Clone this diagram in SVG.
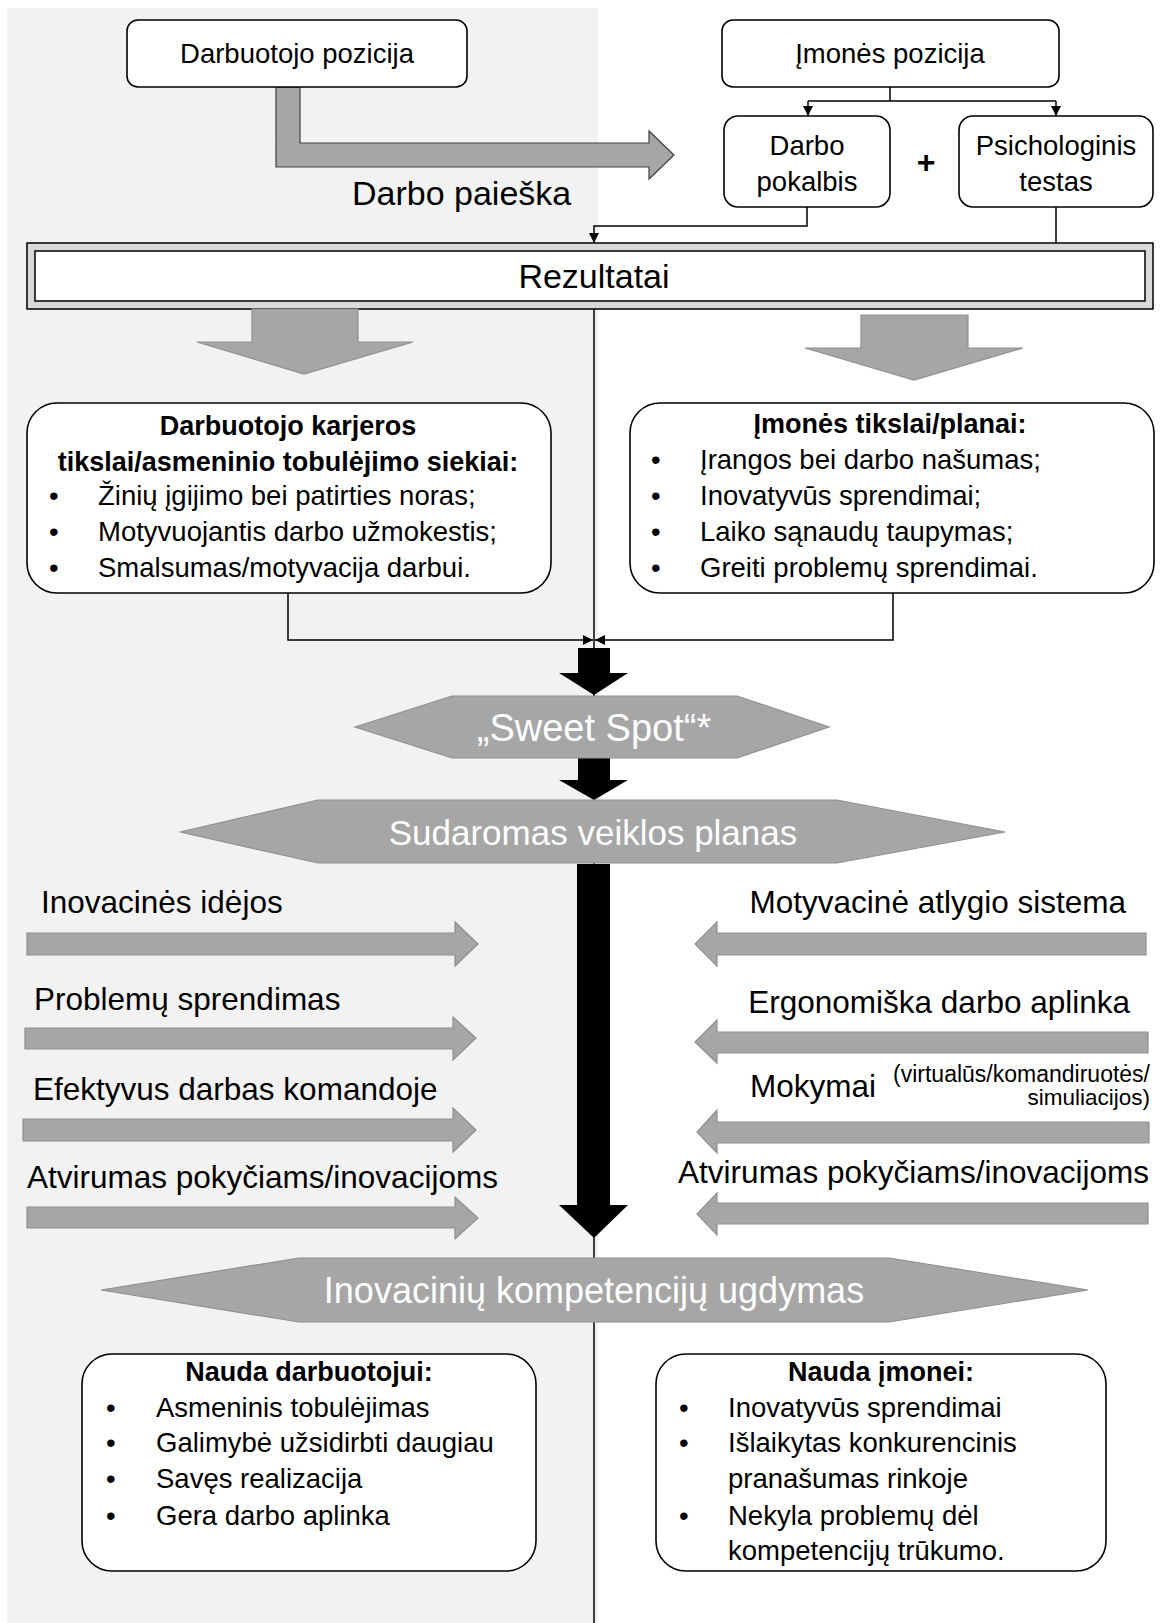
<svg xmlns="http://www.w3.org/2000/svg" width="1161" height="1623" viewBox="0 0 1161 1623">
<defs>
<style>
text{font-family:"Liberation Sans",Arial,sans-serif;fill:#000}
.box{fill:#fff;stroke:#000;stroke-width:1.6}
.t28{font-size:27.5px}
.mid{text-anchor:middle}
.end{text-anchor:end}
.b{font-weight:bold;font-size:27px}
.lbl{font-size:31.5px}
.hex{fill:#a6a6a6;stroke:#8f8f8f;stroke-width:1.2}
.ht{fill:#fff;text-anchor:middle}
.garr{fill:#a6a6a6;stroke:#8f8f8f;stroke-width:1.2}
.barr{fill:#000}
.conn{fill:none;stroke:#000;stroke-width:1.5}
</style>
<marker id="ah" viewBox="0 0 10 10" refX="10" refY="5" markerWidth="10" markerHeight="10" markerUnits="userSpaceOnUse" orient="auto">
<path d="M0,0 L10,5 L0,10 z" fill="#000"/>
</marker>
</defs>
<rect x="0" y="0" width="1161" height="1623" fill="#fff"/>
<rect x="7" y="8" width="591" height="1615" fill="#f2f2f2"/>

<g id="connectors">
<path class="conn" d="M594,309 V1623"/>
<path class="conn" d="M890,87 V101 M808,101 H1056"/>
<path class="conn" d="M808,101 V116" marker-end="url(#ah)"/>
<path class="conn" d="M1056,101 V116" marker-end="url(#ah)"/>
<path class="conn" d="M807,207 V226 H594 V243" marker-end="url(#ah)"/>
<path class="conn" d="M1056,207 V243"/>
<path class="conn" d="M288,593 V640 H593" marker-end="url(#ah)"/>
<path class="conn" d="M893,593 V640 H595" marker-end="url(#ah)"/>
</g>

<g id="search-arrow">
<polygon points="276,87 300,87 300,143 649,143 649,131 674,155 649,179 649,167 276,167" fill="#a6a6a6" stroke="#404040" stroke-width="1.2"/>
<text x="352" y="205" style="font-size:34px">Darbo paieška</text>
</g>

<g id="darbuotojo-pozicija">
<rect class="box" x="127" y="20" width="340" height="67" rx="11"/>
<text class="t28 mid" x="297" y="63">Darbuotojo pozicija</text>
</g>

<g id="imones-pozicija">
<rect class="box" x="722" y="20" width="337" height="67" rx="11"/>
<text class="t28 mid" x="890" y="63">Įmonės pozicija</text>
</g>

<g id="darbo-pokalbis">
<rect class="box" x="724" y="116" width="166" height="91" rx="14"/>
<text class="t28 mid" x="807" y="155">Darbo</text>
<text class="t28 mid" x="807" y="191">pokalbis</text>
</g>

<g id="plus">
<text x="926" y="173" style="font-size:32px;font-weight:bold;text-anchor:middle">+</text>
</g>

<g id="psichologinis-testas">
<rect class="box" x="959" y="116" width="194" height="91" rx="14"/>
<text class="t28 mid" x="1056" y="155">Psichologinis</text>
<text class="t28 mid" x="1056" y="191">testas</text>
</g>

<g id="rezultatai">
<rect x="27" y="243" width="1126" height="66" fill="#d9d9d9" stroke="#000" stroke-width="1.5"/>
<rect x="35" y="251" width="1110" height="50" fill="#fff" stroke="#000" stroke-width="1.5"/>
<text class="mid" x="594" y="288" style="font-size:34px">Rezultatai</text>
</g>

<g id="down-arrows">
<polygon class="garr" points="252,309 358,309 358,342 413,342 304,374 197,342 252,342"/>
<polygon class="garr" points="861,315 968,315 968,348 1023,348 914,380 805,348 861,348"/>
</g>

<g id="darbuotojo-tikslai">
<rect class="box" x="27" y="403" width="524" height="190" rx="30"/>
<text class="b mid" x="288" y="435">Darbuotojo karjeros</text>
<text class="b mid" x="288" y="471">tikslai/asmeninio tobulėjimo siekiai:</text>
<text class="t28" x="49" y="505">•</text><text class="t28" x="98" y="505">Žinių įgijimo bei patirties noras;</text>
<text class="t28" x="49" y="541">•</text><text class="t28" x="98" y="541">Motyvuojantis darbo užmokestis;</text>
<text class="t28" x="49" y="577">•</text><text class="t28" x="98" y="577">Smalsumas/motyvacija darbui.</text>
</g>

<g id="imones-tikslai">
<rect class="box" x="630" y="403" width="524" height="190" rx="30"/>
<text class="b mid" x="890" y="433">Įmonės tikslai/planai:</text>
<text class="t28" x="651" y="469">•</text><text class="t28" x="700" y="469">Įrangos bei darbo našumas;</text>
<text class="t28" x="651" y="505">•</text><text class="t28" x="700" y="505">Inovatyvūs sprendimai;</text>
<text class="t28" x="651" y="541">•</text><text class="t28" x="700" y="541">Laiko sąnaudų taupymas;</text>
<text class="t28" x="651" y="577">•</text><text class="t28" x="700" y="577">Greiti problemų sprendimai.</text>
</g>

<g id="black-arrows">
<polygon class="barr" points="578,648 610,648 610,673 628,673 594,695 559,673 578,673"/>
<polygon class="barr" points="578,758 610,758 610,780 628,780 594,800 559,780 578,780"/>
<polygon class="barr" points="577,864 610,864 610,1205 628,1205 594,1238 559,1205 577,1205"/>
</g>

<g id="sweet-spot">
<polygon class="hex" points="355,727 452,696 737,696 829,727 737,758 452,758"/>
<text class="ht" x="594" y="741" style="font-size:38px">„Sweet Spot“*</text>
</g>

<g id="veiklos-planas">
<polygon class="hex" points="180,832 318,800 837,800 1005,832 837,863 318,863"/>
<text class="ht" x="593" y="845" style="font-size:35px">Sudaromas veiklos planas</text>
</g>

<g id="left-inputs">
<polygon class="garr" points="27,933 455,933 455,922 478,944 455,966 455,955 27,955"/>
<text class="lbl" x="41" y="913">Inovacinės idėjos</text>
<polygon class="garr" points="25,1028 453,1028 453,1017 476,1038 453,1060 453,1049 25,1049"/>
<text class="lbl" x="34" y="1010">Problemų sprendimas</text>
<polygon class="garr" points="23,1119 453,1119 453,1108 476,1130 453,1152 453,1141 23,1141"/>
<text class="lbl" x="33" y="1100">Efektyvus darbas komandoje</text>
<polygon class="garr" points="27,1207 455,1207 455,1197 478,1218 455,1239 455,1228 27,1228"/>
<text class="lbl" x="27" y="1188">Atvirumas pokyčiams/inovacijoms</text>
</g>

<g id="right-inputs">
<polygon class="garr" points="1146,933 717,933 717,922 695,944 717,966 717,955 1146,955"/>
<text class="lbl end" x="1126" y="913">Motyvacinė atlygio sistema</text>
<polygon class="garr" points="1148,1032 717,1032 717,1020 695,1042 717,1063 717,1053 1148,1053"/>
<text class="lbl end" x="1130" y="1013">Ergonomiška darbo aplinka</text>
<polygon class="garr" points="1149,1122 717,1122 717,1110 697,1132 717,1153 717,1143 1149,1143"/>
<text class="lbl" x="750" y="1097">Mokymai</text>
<text class="end" x="1150" y="1082" style="font-size:23px">(virtualūs/komandiruotės/</text>
<text class="end" x="1150" y="1105" style="font-size:22.5px">simuliacijos)</text>
<polygon class="garr" points="1148,1203 717,1203 717,1193 697,1214 717,1235 717,1224 1148,1224"/>
<text class="lbl end" x="1149" y="1183">Atvirumas pokyčiams/inovacijoms</text>
</g>

<g id="kompetenciju-ugdymas">
<polygon class="hex" points="101,1290 299,1258 889,1258 1088,1290 889,1322 299,1322"/>
<text class="ht" x="594" y="1303" style="font-size:36px">Inovacinių kompetencijų ugdymas</text>
</g>

<g id="nauda-darbuotojui">
<rect class="box" x="82" y="1354" width="454" height="217" rx="30"/>
<text class="b mid" x="309" y="1381">Nauda darbuotojui:</text>
<text class="t28" x="106" y="1417">•</text><text class="t28" x="156" y="1417">Asmeninis tobulėjimas</text>
<text class="t28" x="106" y="1452">•</text><text class="t28" x="156" y="1452">Galimybė užsidirbti daugiau</text>
<text class="t28" x="106" y="1488">•</text><text class="t28" x="156" y="1488">Savęs realizacija</text>
<text class="t28" x="106" y="1525">•</text><text class="t28" x="156" y="1525">Gera darbo aplinka</text>
</g>

<g id="nauda-imonei">
<rect class="box" x="656" y="1354" width="450" height="217" rx="30"/>
<text class="b mid" x="881" y="1381">Nauda įmonei:</text>
<text class="t28" x="679" y="1417">•</text><text class="t28" x="728" y="1417">Inovatyvūs sprendimai</text>
<text class="t28" x="679" y="1452">•</text><text class="t28" x="728" y="1452">Išlaikytas konkurencinis</text>
<text class="t28" x="728" y="1488">pranašumas rinkoje</text>
<text class="t28" x="679" y="1525">•</text><text class="t28" x="728" y="1525">Nekyla problemų dėl</text>
<text class="t28" x="728" y="1560">kompetencijų trūkumo.</text>
</g>
</svg>
